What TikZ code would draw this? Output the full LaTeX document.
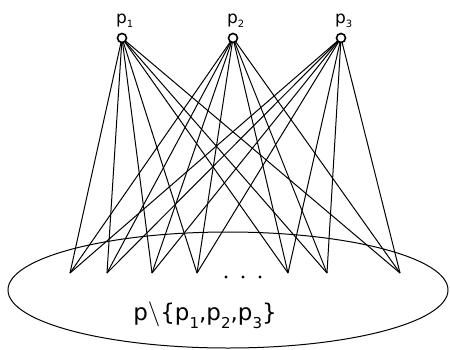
\documentclass[tikz,border=0pt]{standalone}
\usepackage{fontspec}
\setmainfont{DejaVu Sans}
\newcommand{\lowsub}[3]{\raisebox{#1}{\fontsize{#2}{#2}\selectfont #3}}
\begin{document}
\begin{tikzpicture}[x=1pt,y=-1pt,
  edge/.style={line width=1pt},
  toppt/.style={circle,draw,line width=1.6pt,fill=white,minimum size=9pt,inner sep=0pt},
  lbl/.style={font=\fontsize{17}{17}\selectfont,inner sep=0pt,anchor=base west}]
\useasboundingbox (0,0) rectangle (450,349);
\draw[line width=1pt] (228,290) ellipse [x radius=220, y radius=58];
\coordinate (p1) at (122,38);
\coordinate (p2) at (233,38);
\coordinate (p3) at (341,38);
\foreach \i/\x in {1/70,2/107,3/152,4/197,5/288,6/327,7/400}
  \coordinate (b\i) at (\x,273);
\foreach \t in {p1,p2,p3}
  \foreach \i in {1,...,7}
    \draw[edge] (\t) -- (b\i);
\node[toppt] (c1) at (p1) {};
\node[toppt] (c2) at (p2) {};
\node[toppt] (c3) at (p3) {};
\node[lbl] (l1) at (116,23) {p\lowsub{-4pt}{10}{1}};
\node[lbl] (l2) at (227,23) {p\lowsub{-4pt}{10}{2}};
\node[lbl] (l3) at (335,23) {p\lowsub{-4pt}{10}{3}};
\foreach \x in {226,243,260} \fill (\x,277) circle (1.6);
\node[font=\fontsize{23}{23}\selectfont,inner sep=0pt,anchor=base] (set) at (205,320)
  {p$\backslash$\{p\lowsub{-8pt}{15}{1},p\lowsub{-8pt}{15}{2},p\lowsub{-8pt}{15}{3}\}};
\end{tikzpicture}
\end{document}
